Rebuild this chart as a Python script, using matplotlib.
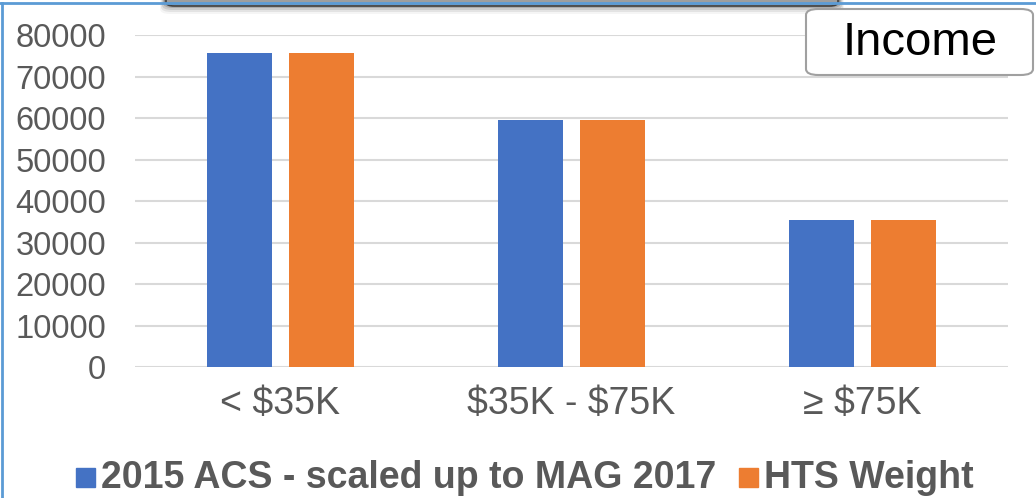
import numpy as np
import matplotlib.pyplot as plt
import matplotlib.transforms as mtransforms
from matplotlib.patches import FancyBboxPatch, Rectangle

# данные
categories = ['< \\$35K', '\\$35K - \\$75K', '\u2265 \\$75K']
acs_values = [75700, 59500, 35400]
hts_values = [75700, 59500, 35400]
series_names = ['2015 ACS - scaled up to MAG 2017', 'HTS Weight']
colors = ['#4472C4', '#ED7D31']
yticks = [0, 10000, 20000, 30000, 40000, 50000, 60000, 70000, 80000]

plt.rcParams['font.family'] = ['Liberation Sans', 'DejaVu Sans']
text_color = '#595959'

fig = plt.figure(figsize=(10.36, 4.98), dpi=100)
ax = fig.add_axes([135 / 1036, 1 - 367 / 498, (1008 - 135) / 1036, (367 - 35) / 498])

x = np.arange(len(categories))
w = 0.223
off = 0.142
ax.bar(x - off, acs_values, w, color=colors[0], zorder=3)
ax.bar(x + off, hts_values, w, color=colors[1], zorder=3)

ax.set_xlim(-0.5, 2.5)
ax.set_ylim(0, 80000)
ax.set_yticks(yticks)
ax.set_yticklabels([str(v) for v in yticks])
ax.set_xticks(x)
ax.set_xticklabels(categories)
ax.grid(axis='y', color='#D9D9D9', linewidth=1.5, zorder=0)
for s in ax.spines.values():
    s.set_visible(False)
ax.tick_params(axis='both', length=0, colors=text_color)
ax.tick_params(axis='y', labelsize=23.5, pad=28)
ax.tick_params(axis='x', labelsize=27, pad=14)
# подвинем подписи оси y правее
shift = mtransforms.ScaledTranslation(10 / 100, 0, fig.dpi_scale_trans)
for lbl in ax.get_yticklabels():
    lbl.set_transform(lbl.get_transform() + shift)

# легенда
fig.patches.append(Rectangle((76 / 1036, 1 - 487 / 498), 19 / 1036, 19 / 498,
                             transform=fig.transFigure, color=colors[0]))
fig.text(101 / 1036, 1 - 478 / 498, series_names[0], fontsize=27, fontweight='bold',
         color=text_color, va='center', ha='left')
fig.patches.append(Rectangle((739 / 1036, 1 - 487 / 498), 19 / 1036, 19 / 498,
                             transform=fig.transFigure, color=colors[1]))
fig.text(764 / 1036, 1 - 478 / 498, series_names[1], fontsize=27, fontweight='bold',
         color=text_color, va='center', ha='left')

# рамка слайда
fig.add_artist(plt.Line2D([2 / 1036, 2 / 1036], [0, 1 - 3 / 498], color='#5B9BD5', linewidth=2,
                          transform=fig.transFigure))
fig.add_artist(plt.Line2D([0, 1], [1 - 3 / 498, 1 - 3 / 498], color='#5B9BD5', linewidth=2,
                          transform=fig.transFigure))

# тёмная плашка сверху с тенью
for i, a in enumerate([0.04, 0.07, 0.1, 0.15, 0.2]):
    fig.patches.append(FancyBboxPatch(((160 + i) / 1036, 1 - (14 - i * 2) / 498),
                                      (684 - i * 2) / 1036, 30 / 498,
                                      boxstyle='round,pad=0,rounding_size=0.01',
                                      transform=fig.transFigure, facecolor='black',
                                      edgecolor='none', alpha=a))
fig.patches.append(FancyBboxPatch((166 / 1036, 1 - 6 / 498), 672 / 1036, 20 / 498,
                                  boxstyle='round,pad=0,rounding_size=0.008',
                                  transform=fig.transFigure, facecolor='#9E9E9E',
                                  edgecolor='#404040', linewidth=1.2))

# подпись Income
fig.patches.append(FancyBboxPatch((806 / 1036, 1 - 75 / 498), 227 / 1036, 66 / 498,
                                  boxstyle='round,pad=0,rounding_size=0.012',
                                  transform=fig.transFigure, facecolor='white',
                                  edgecolor='#A0A0A0', linewidth=1.5, zorder=5))
fig.text(920 / 1036, 1 - 43 / 498, 'Income', fontsize=34, color='black',
         ha='center', va='center', zorder=6)

fig.savefig('out.png', dpi=100)
